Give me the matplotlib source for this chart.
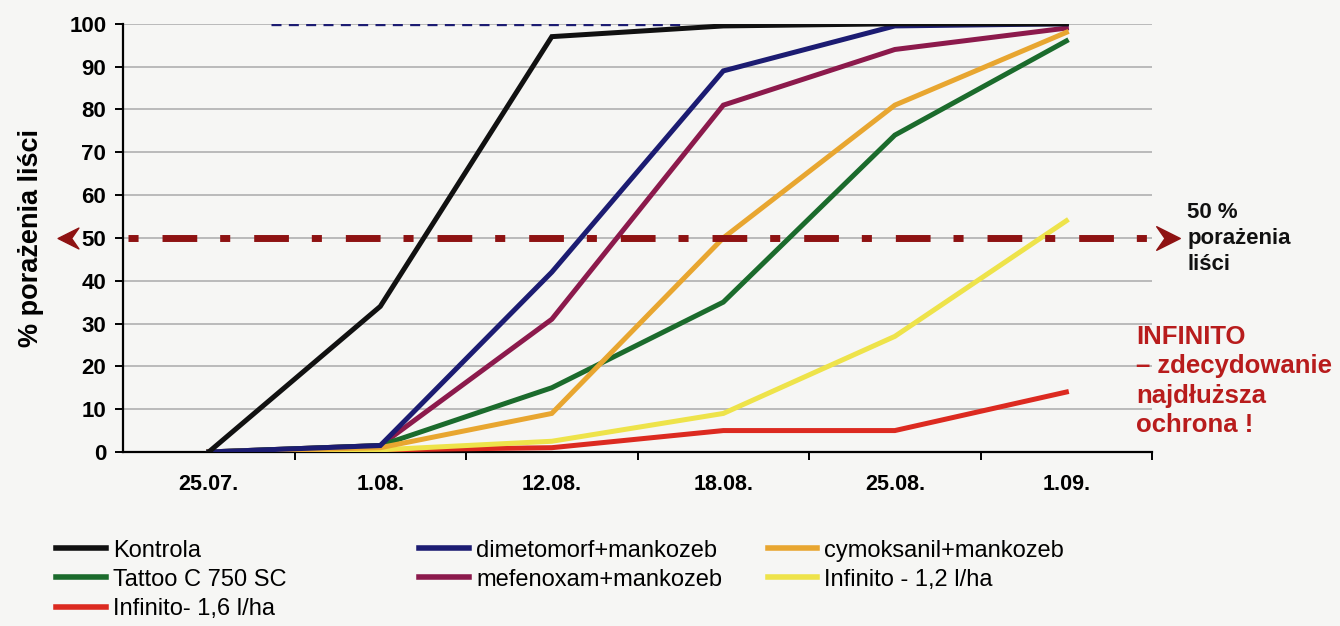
import matplotlib
matplotlib.use('Agg')
import matplotlib.pyplot as plt
from matplotlib.path import Path
from matplotlib.lines import Line2D

plt.rcParams['font.family'] = ['Liberation Sans', 'DejaVu Sans']

# data
dates = ['25.07.', '1.08.', '12.08.', '18.08.', '25.08.', '1.09.']
kontrola = [0, 34, 97, 99.5, 100, 100]
dimetomorf = [0, 1.5, 42, 89, 99.5, 100]
cymoksanil = [0, 1, 9, 50, 81, 98]
tattoo = [0, 1.5, 15, 35, 74, 96]
mefenoxam = [0, 1.5, 31, 81, 94, 99]
infinito_12 = [0, 0.5, 2.5, 9, 27, 54]
infinito_16 = [0, 0.5, 1, 5, 5, 14]

series = [
    ('Kontrola', kontrola, '#111111'),
    ('dimetomorf+mankozeb', dimetomorf, '#1c1c72'),
    ('cymoksanil+mankozeb', cymoksanil, '#e8a630'),
    ('Tattoo C 750 SC', tattoo, '#1b6b2c'),
    ('mefenoxam+mankozeb', mefenoxam, '#8c1a4c'),
    ('Infinito - 1,2 l/ha', infinito_12, '#eee34a'),
    ('Infinito- 1,6 l/ha', infinito_16, '#dc2a20'),
]

bg = '#f6f6f4'
fig = plt.figure(figsize=(13.4, 6.26), dpi=100, facecolor=bg)
ax = fig.add_axes([0.0918, 0.278, 0.768, 0.684], facecolor=bg)

x = list(range(len(dates)))

ax.set_xlim(-0.5, 5.5)
ax.set_ylim(0, 100)
ax.set_yticks(range(0, 101, 10))
ax.grid(axis='y', color='#aaaaaa', lw=1.1)
ax.set_axisbelow(True)

# 100 % reference dashed line
ax.plot([0.36, 2.75], [100, 100], color='#1c1c72', lw=2.4, ls=(0, (3, 2.2)), zorder=2)

# draw lines, back to front so the order matches the picture
for name, vals, col in series[::-1]:
    ax.plot(x, vals, color=col, lw=3.6, solid_joinstyle='miter', zorder=3)

# 50 % threshold line with arrow heads
red50 = '#8e1212'
ax.plot([-0.47, 5.5], [50, 50], color=red50, lw=5, clip_on=False, zorder=4,
        dashes=[1.45, 3.45, 5.0, 3.3], dash_capstyle='butt')
chev = Path([(-1, 1), (1, 0), (-1, -1), (-0.3, 0), (-1, 1)],
            [Path.MOVETO, Path.LINETO, Path.LINETO, Path.LINETO, Path.CLOSEPOLY])
chev_l = Path([(1, 1), (-1, 0), (1, -1), (0.3, 0), (1, 1)],
              [Path.MOVETO, Path.LINETO, Path.LINETO, Path.LINETO, Path.CLOSEPOLY])
ax.plot([5.59], [50], marker=chev, ms=17, color=red50, clip_on=False, zorder=5)
ax.plot([-0.82], [50], marker=chev_l, ms=15, color=red50, clip_on=False, zorder=5)

for side in ['top', 'right']:
    ax.spines[side].set_visible(False)
ax.spines['left'].set_linewidth(1.6)
ax.spines['bottom'].set_linewidth(1.6)

ax.set_xticks([i + 0.5 for i in range(6)])
ax.set_xticklabels([])
ax.set_xticks(x, minor=True)
ax.set_xticklabels(dates, minor=True, fontsize=15.5, fontweight='bold')
ax.tick_params(axis='x', which='minor', length=0, pad=16)
ax.tick_params(axis='x', which='major', length=6, width=1.4, direction='out')
ax.tick_params(axis='y', length=6, width=1.4, labelsize=16, pad=6)
for lab in ax.get_yticklabels():
    lab.set_fontweight('bold')

ax.set_ylabel('% porażenia liści', fontsize=19.5, fontweight='bold', labelpad=18)

fig.text(0.886, 0.677, '50 %\nporażenia\nliści', fontsize=16, fontweight='bold',
         color='#111111', va='top', ha='left', linespacing=1.3)
fig.text(0.848, 0.481, 'INFINITO\n– zdecydowanie\nnajdłuższa\nochrona !', fontsize=18.5,
         fontweight='bold', color='#b81c1c', va='top', ha='left', linespacing=1.28)

# legend in three columns placed like the original
handles = {name: Line2D([], [], color=col, lw=4) for name, vals, col in series}
cols = [
    (0.042, ['Kontrola', 'Tattoo C 750 SC', 'Infinito- 1,6 l/ha']),
    (0.313, ['dimetomorf+mankozeb', 'mefenoxam+mankozeb']),
    (0.573, ['cymoksanil+mankozeb', 'Infinito - 1,2 l/ha']),
]
for xpos, names in cols:
    fig.legend([handles[n] for n in names], names, loc='upper left',
               bbox_to_anchor=(xpos, 0.138), frameon=False,
               prop={'family': ['Liberation Sans Narrow', 'Liberation Sans'], 'size': 17},
               handlelength=2.1, handletextpad=0.3, labelspacing=0.3,
               borderaxespad=0, borderpad=0)

fig.savefig('out.png', dpi=100, facecolor=bg)
